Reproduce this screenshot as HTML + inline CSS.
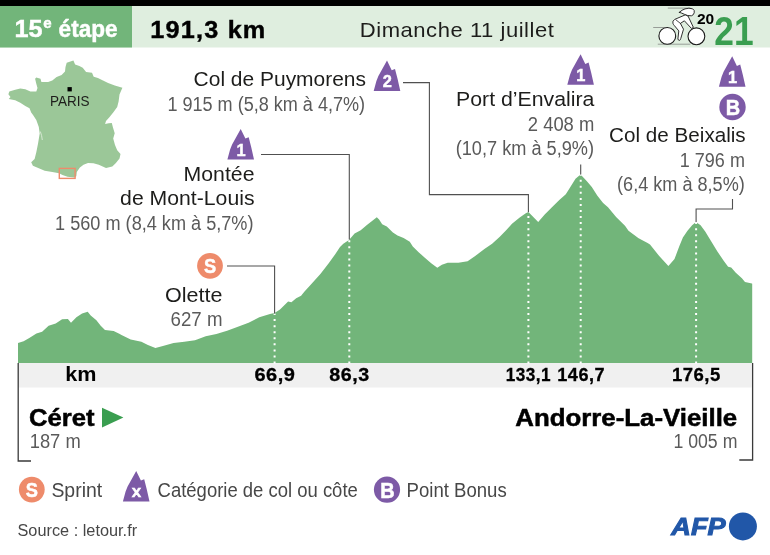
<!DOCTYPE html>
<html lang="fr"><head><meta charset="utf-8"><title>Tour de France 2021 - 15e étape</title>
<style>html,body{margin:0;padding:0;background:#fff}svg{display:block}text{font-family:"Liberation Sans", sans-serif;}</style></head><body>
<svg width="770" height="555" viewBox="0 0 770 555">
<rect width="770" height="555" fill="#fff"/>
<rect x="0" y="0" width="770" height="6" fill="#000"/>
<rect x="0" y="6" width="770" height="41.5" fill="#DFEEDF"/>
<rect x="0" y="6" width="132" height="41.5" fill="#72B57A"/>
<text y="37.4" font-size="24.6" font-weight="bold" fill="#fff" stroke="#fff" stroke-width="0.45"><tspan x="14.6" textLength="28" lengthAdjust="spacingAndGlyphs">15</tspan><tspan x="43.2" dy="-9.7" font-size="14.8" textLength="8.4" lengthAdjust="spacingAndGlyphs">e</tspan><tspan x="58.6" dy="9.7" textLength="59" lengthAdjust="spacingAndGlyphs">étape</tspan></text>
<text x="150.3" y="37.5" font-size="23.0" font-weight="bold" fill="#000" textLength="116.2" lengthAdjust="spacingAndGlyphs" letter-spacing="1.1" stroke="#000" stroke-width="0.4">191,3 km</text>
<text x="359.8" y="36.8" font-size="20.6" fill="#1D1D1B" textLength="194.6" lengthAdjust="spacingAndGlyphs" letter-spacing="0.5">Dimanche 11 juillet</text>
<g fill="none" stroke="#1a1a1a" stroke-width="0.9" stroke-linecap="round" stroke-linejoin="round">
<path d="M668.2 8.1H690M653.6 27.5H667.3M658.2 44.2H690" stroke-width="0.6" stroke="#666"/>
<circle cx="667.3" cy="35.9" r="8.4" fill="#fff" stroke-width="1.1"/>
<circle cx="696.4" cy="36.3" r="8.4" fill="#fff" stroke-width="1.1"/>
<path d="M685 15 L674.7 19.4 Q672.2 21 672.9 23.2 Q673.2 24.4 674.2 25.4 L678.8 30.9 L677.9 39 Q678.3 40.6 679.8 40.3 Q680.6 39.8 680.8 38.4 L683.5 29.2 L680.4 23.4 L684.4 20.8 L691.4 28.4 L693.4 27.4 L688.2 16.4 Z" fill="#fff"/>
<path d="M676 19.9 L680.4 23.4" stroke-width="0.8"/>
<path d="M679.4 12.3 Q682 9.8 685 8.9 Q689 7.6 692.6 8.8 Q695 10.2 694.2 12.8 Q693.6 15.2 691.4 15.8 Q687.6 16 684.4 14.3 Q681.6 13 679.4 12.3 Z" fill="#fff"/>
</g>
<text x="696.9" y="24.1" font-size="13.8" font-weight="bold" fill="#000" textLength="17.3" lengthAdjust="spacingAndGlyphs">20</text>
<text x="714.3" y="45.2" font-size="40.6" font-weight="bold" fill="#3A9E50" textLength="39.3" lengthAdjust="spacingAndGlyphs">21</text>
<polygon points="73.4,60.5 75.1,64.4 79.4,66.0 82.7,67.7 86.1,71.9 92.0,72.8 93.7,76.7 97.9,77.9 103.0,80.4 108.1,82.9 114.8,85.5 122.4,87.8 119.5,94.4 118.6,101.6 117.2,107.0 113.2,112.4 109.6,116.9 106.0,121.1 105.1,124.1 108.7,123.2 111.8,122.9 112.9,127.2 114.7,133.2 113.2,138.6 115.0,144.9 117.2,150.3 120.5,153.9 119.5,158.4 115.9,162.9 112.3,166.5 106.0,167.9 98.8,164.7 93.4,163.2 88.0,162.9 83.5,164.7 79.9,167.4 76.8,171.9 76.3,176.2 74.3,177.5 67.5,176.7 62.5,175.0 59.1,173.3 52.3,172.1 44.7,170.8 38.8,168.2 32.9,165.7 31.2,162.3 34.6,159.0 36.3,152.2 38.0,143.8 39.7,133.6 38.8,126.9 36.3,120.1 33.2,115.3 31.2,112.5 29.5,108.2 25.3,106.1 20.3,102.7 15.2,100.3 8.8,99.0 10.5,96.9 8.4,94.2 9.3,91.4 15.2,89.7 20.3,88.5 25.3,89.2 30.4,91.4 36.3,91.4 37.5,88.0 36.3,83.8 35.1,78.7 36.3,77.4 40.5,78.7 41.4,82.1 48.1,82.1 52.3,80.4 56.6,77.0 61.6,75.0 65.0,71.6 65.5,66.9 66.7,62.7" fill="#9BC798"/>
<path d="M40.3 131.5Q41.8 135 42.3 140" fill="none" stroke="#dcecd9" stroke-width="0.9"/>
<rect x="67.5" y="87.1" width="4.3" height="4.3" fill="#000"/>
<text x="49.9" y="106.2" font-size="14.2" fill="#1D1D1B" textLength="39.6" lengthAdjust="spacingAndGlyphs">PARIS</text>
<rect x="59.3" y="168.4" width="15.8" height="10" fill="none" stroke="#EE8B6B" stroke-width="1.4"/>
<polygon points="18.0,363.0 18.0,343.0 23.6,341.2 29.3,337.9 36.4,333.6 42.1,331.8 48.6,325.7 55.7,323.4 62.1,319.3 67.9,319.1 71.0,322.8 76.4,317.3 82.1,313.5 87.7,311.7 90.7,315.5 96.4,320.2 100.7,325.7 105.0,330.0 113.6,330.9 119.3,333.8 121.5,334.9 130.7,339.4 141.4,341.8 147.9,345.0 155.4,348.1 162.9,346.0 173.6,343.0 184.3,341.7 195.0,340.3 205.7,336.2 216.4,334.0 227.1,330.8 237.9,326.7 248.6,322.8 259.3,317.3 270.0,314.0 274.5,313.0 280.0,309.5 288.1,301.4 291.4,302.2 296.2,298.2 301.1,295.7 304.3,291.7 312.5,282.7 320.6,273.8 328.7,263.3 335.2,254.3 340.0,247.0 343.3,243.8 349.0,240.1 354.6,233.6 360.7,230.3 366.9,224.9 373.0,220.3 376.8,217.3 379.1,219.6 382.2,224.2 386.8,226.4 392.9,232.6 397.5,235.6 403.6,237.9 409.8,241.8 412.8,246.4 418.9,252.5 425.1,257.9 431.2,263.2 437.3,267.8 441.9,264.8 447.7,262.8 458.4,262.8 467.6,261.3 475.2,255.9 484.4,249.0 492.1,243.7 499.8,236.8 505.9,230.6 512.0,223.7 519.7,217.6 525.8,213.2 528.4,211.9 538.2,221.9 544.7,214.5 551.2,208.0 559.3,199.9 565.8,194.2 569.9,187.7 575.5,178.8 580.6,174.4 586.9,181.2 591.8,186.9 597.4,195.8 603.1,203.1 608.0,207.2 616.1,216.9 625.0,225.8 628.5,230.8 638.6,238.3 647.6,243.0 650.0,244.5 659.2,256.0 668.4,265.9 674.5,259.0 679.1,246.8 682.9,237.6 687.5,230.7 692.1,225.3 696.0,222.0 700.6,225.3 705.2,231.4 711.3,241.4 717.4,251.4 723.5,260.6 728.1,266.7 731.2,267.5 735.8,272.8 741.9,278.2 745.0,282.0 751.9,283.5 752.2,283.7 752.2,363.0" fill="#72B57A"/>
<rect x="18" y="363" width="733.6" height="24.5" fill="#F0F0F0"/>
<line x1="274.6" y1="363.5" x2="274.6" y2="313.5" stroke="#fff" stroke-width="2" stroke-dasharray="2 4.06"/>
<line x1="349.3" y1="363.5" x2="349.3" y2="239.5" stroke="#fff" stroke-width="2" stroke-dasharray="2 4.06"/>
<line x1="528.4" y1="363.5" x2="528.4" y2="212.2" stroke="#fff" stroke-width="2" stroke-dasharray="2 4.06"/>
<line x1="580.7" y1="363.5" x2="580.7" y2="174.5" stroke="#fff" stroke-width="2" stroke-dasharray="2 4.06"/>
<line x1="696.1" y1="363.5" x2="696.1" y2="222" stroke="#fff" stroke-width="2" stroke-dasharray="2 4.06"/>
<path d="M18.2 363V461H31M752.6 363V460H739.3" fill="none" stroke="#3a3a3a" stroke-width="1.3"/>
<g fill="none" stroke="#505050" stroke-width="1.1">
<path d="M227 266H274.6V313.5"/>
<path d="M261 154.5H349.3V239.5"/>
<path d="M403 82.6H429.4V194.6H528.4V212"/>
<path d="M580.7 164.4V174.5"/>
<path d="M732.5 199V209H696.1V222"/>
</g>
<text x="65.2" y="380.6" font-size="19.6" font-weight="bold" fill="#000" textLength="31.2" lengthAdjust="spacingAndGlyphs">km</text>
<text x="254.4" y="380.5" font-size="18.2" font-weight="bold" fill="#000" textLength="41.1" lengthAdjust="spacingAndGlyphs" letter-spacing="0.5" stroke="#000" stroke-width="0.3">66,9</text>
<text x="329.2" y="380.5" font-size="18.2" font-weight="bold" fill="#000" textLength="40.5" lengthAdjust="spacingAndGlyphs" letter-spacing="0.5" stroke="#000" stroke-width="0.3">86,3</text>
<text x="505.7" y="380.5" font-size="18.2" font-weight="bold" fill="#000" textLength="45.4" lengthAdjust="spacingAndGlyphs" letter-spacing="0.5" stroke="#000" stroke-width="0.3">133,1</text>
<text x="557.3" y="380.5" font-size="18.2" font-weight="bold" fill="#000" textLength="47.8" lengthAdjust="spacingAndGlyphs" letter-spacing="0.5" stroke="#000" stroke-width="0.3">146,7</text>
<text x="671.9" y="380.5" font-size="18.2" font-weight="bold" fill="#000" textLength="48.9" lengthAdjust="spacingAndGlyphs" letter-spacing="0.5" stroke="#000" stroke-width="0.3">176,5</text>
<text x="29.0" y="425.8" font-size="23.2" font-weight="bold" fill="#000" textLength="65.5" lengthAdjust="spacingAndGlyphs" stroke="#000" stroke-width="0.5">Céret</text>
<polygon points="102,407.7 123.4,417.5 102,427.4" fill="#3A9E50"/>
<text x="29.7" y="448.2" font-size="19.6" fill="#5A5A5A" textLength="51.0" lengthAdjust="spacingAndGlyphs">187 m</text>
<text x="515.3" y="426.4" font-size="23.2" font-weight="bold" fill="#000" textLength="221.9" lengthAdjust="spacingAndGlyphs" stroke="#000" stroke-width="0.5">Andorre-La-Vieille</text>
<text x="673.4" y="448.2" font-size="19.6" fill="#5A5A5A" textLength="64.0" lengthAdjust="spacingAndGlyphs">1 005 m</text>
<text x="193.6" y="86.3" font-size="19.3" fill="#1D1D1B" textLength="172.4" lengthAdjust="spacingAndGlyphs">Col de Puymorens</text>
<text x="167.4" y="110.9" font-size="19.6" fill="#5A5A5A" textLength="197.7" lengthAdjust="spacingAndGlyphs">1 915 m (5,8 km à 4,7%)</text>
<text x="183.6" y="181.0" font-size="19.3" fill="#1D1D1B" textLength="70.9" lengthAdjust="spacingAndGlyphs">Montée</text>
<text x="120.1" y="205.2" font-size="19.3" fill="#1D1D1B" textLength="134.4" lengthAdjust="spacingAndGlyphs">de Mont-Louis</text>
<text x="55.1" y="229.7" font-size="19.6" fill="#5A5A5A" textLength="198.4" lengthAdjust="spacingAndGlyphs">1 560 m (8,4 km à 5,7%)</text>
<text x="165.1" y="301.5" font-size="19.3" fill="#1D1D1B" textLength="57.4" lengthAdjust="spacingAndGlyphs">Olette</text>
<text x="170.6" y="325.5" font-size="19.6" fill="#5A5A5A" textLength="51.9" lengthAdjust="spacingAndGlyphs">627 m</text>
<text x="456.1" y="106.2" font-size="19.3" fill="#1D1D1B" textLength="138.2" lengthAdjust="spacingAndGlyphs">Port d’Envalira</text>
<text x="527.8" y="130.7" font-size="19.6" fill="#5A5A5A" textLength="66.5" lengthAdjust="spacingAndGlyphs">2 408 m</text>
<text x="455.7" y="154.6" font-size="19.6" fill="#5A5A5A" textLength="138.4" lengthAdjust="spacingAndGlyphs">(10,7 km à 5,9%)</text>
<text x="609.1" y="141.8" font-size="19.3" fill="#1D1D1B" textLength="136.6" lengthAdjust="spacingAndGlyphs">Col de Beixalis</text>
<text x="679.8" y="166.8" font-size="19.6" fill="#5A5A5A" textLength="65.1" lengthAdjust="spacingAndGlyphs">1 796 m</text>
<text x="617.1" y="190.6" font-size="19.6" fill="#5A5A5A" textLength="127.7" lengthAdjust="spacingAndGlyphs">(6,4 km à 8,5%)</text>
<polygon points="373.7,91.1 376.4,81.1 378.4,76.1 387.0,60.6 391.7,70.2 395.0,68.9 397.6,79.1 400.3,91.1" fill="#7D5AA6"/><text x="387.3" y="87.4" font-size="16.4" font-weight="bold" fill="#fff" text-anchor="middle" stroke="#fff" stroke-width="0.45">2</text>
<polygon points="227.4,159.5 230.1,149.5 232.1,144.5 240.7,129.0 245.4,138.6 248.7,137.3 251.3,147.5 254.0,159.5" fill="#7D5AA6"/><text x="241.0" y="155.8" font-size="16.4" font-weight="bold" fill="#fff" text-anchor="middle" stroke="#fff" stroke-width="0.45">1</text>
<polygon points="567.3,84.8 570.0,74.8 572.0,69.8 580.6,54.3 585.3,63.9 588.6,62.6 591.2,72.8 593.9,84.8" fill="#7D5AA6"/><text x="580.9" y="81.1" font-size="16.4" font-weight="bold" fill="#fff" text-anchor="middle" stroke="#fff" stroke-width="0.45">1</text>
<polygon points="718.9,86.8 721.6,76.8 723.6,71.8 732.2,56.3 736.9,65.9 740.2,64.6 742.8,74.8 745.5,86.8" fill="#7D5AA6"/><text x="732.5" y="83.1" font-size="16.4" font-weight="bold" fill="#fff" text-anchor="middle" stroke="#fff" stroke-width="0.45">1</text>
<circle cx="732.5" cy="107.0" r="13.2" fill="#7D5AA6"/><text x="733.0" y="114.9" font-size="22.0" font-weight="bold" fill="#fff" text-anchor="middle" textLength="14.4" lengthAdjust="spacingAndGlyphs" stroke="#fff" stroke-width="0.5">B</text>
<circle cx="210" cy="265.8" r="12.9" fill="#EE8B6B"/><text x="210.0" y="273.3" font-size="21.0" font-weight="bold" fill="#fff" text-anchor="middle" textLength="12.2" lengthAdjust="spacingAndGlyphs" stroke="#fff" stroke-width="0.5">S</text>
<circle cx="31.8" cy="489.6" r="12.9" fill="#EE8B6B"/><text x="31.8" y="497.1" font-size="21.0" font-weight="bold" fill="#fff" text-anchor="middle" textLength="12.2" lengthAdjust="spacingAndGlyphs" stroke="#fff" stroke-width="0.5">S</text>
<text x="51.4" y="497.4" font-size="19.3" fill="#474747" textLength="50.8" lengthAdjust="spacingAndGlyphs">Sprint</text>
<polygon points="122.9,501.5 125.6,491.5 127.6,486.5 136.2,471.0 140.9,480.6 144.2,479.3 146.8,489.5 149.5,501.5" fill="#7D5AA6"/><text x="136.5" y="496.9" font-size="17" font-weight="bold" fill="#fff" text-anchor="middle" stroke="#fff" stroke-width="0.45">x</text>
<text x="157.6" y="497.4" font-size="19.3" fill="#474747" textLength="200.2" lengthAdjust="spacingAndGlyphs">Catégorie de col ou côte</text>
<circle cx="387" cy="489.7" r="13.1" fill="#7D5AA6"/><text x="387.5" y="497.6" font-size="22.0" font-weight="bold" fill="#fff" text-anchor="middle" textLength="14.4" lengthAdjust="spacingAndGlyphs" stroke="#fff" stroke-width="0.5">B</text>
<text x="406.6" y="497.4" font-size="19.3" fill="#474747" textLength="100.1" lengthAdjust="spacingAndGlyphs">Point Bonus</text>
<text x="17.5" y="536.4" font-size="17.2" fill="#474747" textLength="119.6" lengthAdjust="spacingAndGlyphs">Source : letour.fr</text>
<text x="671.3" y="535.3" font-size="24.2" font-weight="bold" font-style="italic" fill="#2157A8" textLength="54.3" lengthAdjust="spacingAndGlyphs" stroke="#2157A8" stroke-width="1.0">AFP</text>
<circle cx="742.9" cy="526.4" r="14" fill="#2157A8"/>
</svg></body></html>
